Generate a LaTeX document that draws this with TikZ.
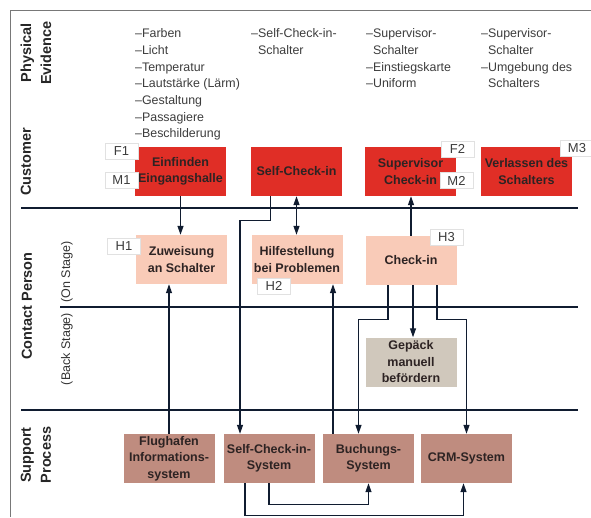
\documentclass[tikz,border=0pt]{standalone}
\usepackage{fontspec}
\setmainfont{Liberation Sans}
\usetikzlibrary{arrows.meta}
\definecolor{custred}{RGB}{224,46,38}
\definecolor{contpeach}{RGB}{249,203,184}
\definecolor{backgray}{RGB}{208,200,188}
\definecolor{suppbrown}{RGB}{191,140,127}
\definecolor{linecol}{RGB}{16,28,48}
\definecolor{boxtext}{RGB}{45,35,35}
\definecolor{evtext}{RGB}{60,60,60}
\definecolor{taggray}{RGB}{225,225,225}
\definecolor{framegray}{RGB}{120,120,120}
\begin{document}
\begin{tikzpicture}[x=1pt, y=-1pt, >={Triangle[length=9pt,width=6pt]},
    box/.style={rectangle, minimum width=91pt, minimum height=49pt, inner sep=1pt,
      align=center, text=boxtext, font=\fontsize{12.5}{16.5}\selectfont\bfseries},
    tag/.style={draw=taggray, fill=white, minimum width=33pt, minimum height=16pt,
      inner sep=0pt, text=evtext, font=\fontsize{13}{13}\selectfont},
    conn/.style={draw=linecol, line width=1.2pt},
    lane/.style={draw=linecol, line width=2.4pt},
    lanelabel/.style={rotate=90, align=center, text=black!85,
      font=\fontsize{14.5}{20}\selectfont\bfseries},
    stagelabel/.style={rotate=90, text=black!80, font=\fontsize{12.5}{12.5}\selectfont},
    evidence/.style={anchor=north west, align=left, inner sep=0pt, text=evtext,
      font=\fontsize{12.4}{16.7}\selectfont}]
    \useasboundingbox (0, 0) rectangle (591, 517);
    \draw[framegray, line width=1pt] (591, 10) -- (10, 10) -- (10, 517);

    \draw[lane] (21, 208) -- (578, 208);
    \draw[lane] (60, 307) -- (578, 307);
    \draw[lane] (21, 410) -- (578, 410);

    \node[lanelabel] (lphys) at (36, 53) {Physical\\Evidence};
    \node[lanelabel] (lcust) at (26, 162) {Customer};
    \node[lanelabel] (lcont) at (27, 306) {Contact Person};
    \node[stagelabel] (lon) at (67, 272) {(On Stage)};
    \node[stagelabel] (lback) at (67, 349) {(Back Stage)};
    \node[lanelabel] (lsupp) at (36, 455) {Support\\Process};

    \node[evidence] (ev1) at (135, 28.5) {–Farben\\–Licht\\–Temperatur\\–Lautstärke (Lärm)\\–Gestaltung\\–Passagiere\\–Beschilderung};
    \node[evidence] (ev2) at (251, 28.5) {–Self-Check-in-\\\phantom{–}Schalter};
    \node[evidence] (ev3) at (366, 28.5) {–Supervisor-\\\phantom{–}Schalter\\–Einstiegskarte\\–Uniform};
    \node[evidence] (ev4) at (481, 28.5) {–Supervisor-\\\phantom{–}Schalter\\–Umgebung des\\\phantom{–}Schalters};

    \begin{scope}[every node/.append style={box, fill=custred}]
      \node (einfinden) at (180.5, 171.5) {Einfinden\\Eingangshalle};
      \node (selfcheck) at (296.5, 171.5) {Self-Check-in};
      \node (supervisor) at (410.5, 171.5) {Supervisor\\Check-in};
      \node (verlassen) at (526.5, 171.5) {Verlassen des\\Schalters};
    \end{scope}
    \begin{scope}[every node/.append style={box, fill=contpeach}]
      \node (zuweisung) at (181.5, 259.5) {Zuweisung\\an Schalter};
      \node (hilfe) at (297, 259.5) {Hilfestellung\\bei Problemen};
      \node (checkin) at (411, 260.5) {Check-in};
    \end{scope}
    \node[box, fill=backgray] (gepaeck) at (411, 362) {Gepäck\\manuell\\befördern};
    \begin{scope}[every node/.append style={box, fill=suppbrown}]
      \node (flughafen) at (169, 458.5) {Flughafen\\Informations-\\system};
      \node (scsystem) at (269, 458.5) {Self-Check-in-\\System};
      \node (buchung) at (368.5, 458.5) {Buchungs-\\System};
      \node (crm) at (466.5, 458.5) {CRM-System};
    \end{scope}

    \node[tag] (f1) at (121.5, 151) {F1};
    \node[tag] (m1) at (121.5, 180.5) {M1};
    \node[tag] (f2) at (457.5, 149) {F2};
    \node[tag] (m2) at (456.5, 180.5) {M2};
    \node[tag] (m3) at (577, 148.5) {M3};
    \node[tag] (h1) at (124, 246) {H1};
    \node[tag] (h2) at (274, 286) {H2};
    \node[tag] (h3) at (446.5, 237.5) {H3};

    \draw[conn, ->] (einfinden.south) -- (einfinden.south |- zuweisung.north);
    \draw[conn, ->] ([xshift=-26pt]selfcheck.south) -- ++(0, 24) -| ([xshift=-29pt]scsystem.north);
    \draw[conn, <->] (selfcheck.south) -- (selfcheck.south |- hilfe.north);
    \draw[conn, ->] (flughafen.north) -- (flughafen.north |- zuweisung.south);
    \draw[conn, ->] ([xshift=-35.5pt]buchung.north) -- ([xshift=-35.5pt]buchung.north |- hilfe.south);
    \draw[conn, ->] (checkin.north) -- (checkin.north |- supervisor.south);
    \draw[conn, ->] ([xshift=-23pt]checkin.south) -- ++(0, 34) -| ([xshift=-10pt]buchung.north);
    \draw[conn, ->] ([xshift=2pt]checkin.south) -- ([xshift=2pt]checkin.south |- gepaeck.north);
    \draw[conn, ->] ([xshift=26pt]checkin.south) -- ++(0, 34) -| (crm.north);
    \draw[conn, ->] (scsystem.south) -- ++(0, 21) -| (buchung.south);
    \draw[conn, ->] ([xshift=-24pt]scsystem.south) -- ++(0, 32) -| ([xshift=-3pt]crm.south);
  \end{tikzpicture}
\end{document}
